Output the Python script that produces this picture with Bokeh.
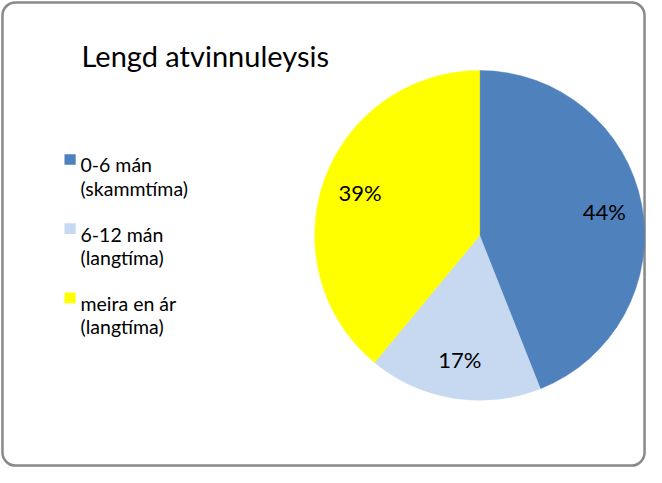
import math
from bokeh.plotting import figure
from bokeh.models import ColumnDataSource, Range1d, BoxAnnotation
from bokeh.core.properties import value
from bokeh.embed import file_html
from bokeh.resources import INLINE

# ---- data ----
title_text = "Lengd atvinnuleysis"
categories = ["0-6 mán\n(skammtíma)", "6-12 mán\n(langtíma)", "meira en ár\n(langtíma)"]
shares = [44, 17, 39]
colors = ["#4F81BD", "#C6D9F1", "#FFFF00"]

FONT = "Lato"

# figure whose data space is the 662x483 reference pixel space (y negated), scaled to fit
p = figure(width=646, height=467, output_backend="svg", toolbar_location=None,
           x_range=Range1d(0, 662), y_range=Range1d(-483, 0),
           min_border=0, background_fill_color="white", border_fill_color="white")
p.axis.visible = False
p.grid.visible = False
p.outline_line_color = None

# chart border (rounded)
p.add_layout(BoxAnnotation(left=2.0, right=660.0, top=-2.0, bottom=-481.0,
                           fill_color="white", fill_alpha=0.0,
                           line_color="#898989", line_alpha=1.0, line_width=2.5,
                           border_radius=13, level="underlay"))

# pie
cx, cy, R = 491, -243, 169
total = sum(shares)
starts, ends, lx, ly, labels = [], [], [], [], []
cum = 0
for s in shares:
    a0 = math.pi / 2 - 2 * math.pi * cum / total
    cum += s
    a1 = math.pi / 2 - 2 * math.pi * cum / total
    starts.append(a0)
    ends.append(a1)
    mid = (a0 + a1) / 2
    lx.append(cx + 0.77 * R * math.cos(mid))
    ly.append(cy + 0.77 * R * math.sin(mid))
    labels.append(f"{s}%")

src = ColumnDataSource(dict(start=starts, end=ends, color=colors, lx=lx, ly=ly, lab=labels))
p.wedge(x=cx, y=cy, radius=R, start_angle="start", end_angle="end", direction="clock",
        fill_color="color", line_color="color", line_width=0.5, source=src)
p.text(x="lx", y="ly", text="lab", source=src, text_font=value(FONT), text_font_size="22px",
       text_align="center", text_baseline="middle", text_color="black")

# title
p.text(x=[83], y=[-57], text=[title_text], text_font=value(FONT), text_font_size="29px",
       text_align="left", text_baseline="alphabetic", text_color="black")

# legend (manual)
first = [c.split("\n")[0] for c in categories]
second = [c.split("\n")[1] for c in categories]
base = [-(170 + 71.5 * i) for i in range(len(categories))]
leg = ColumnDataSource(dict(
    sx=[71.3] * len(categories), sy=[b + 5.5 for b in base], color=colors,
    tx=[82] * len(categories), y1=base, y2=[b - 24 for b in base],
    t1=first, t2=second))
p.rect(x="sx", y="sy", width=11.5, height=11, fill_color="color", line_color=None, source=leg)
p.text(x="tx", y="y1", text="t1", source=leg, text_font=value(FONT), text_font_size="19.5px",
       text_baseline="alphabetic", text_color="black")
p.text(x="tx", y="y2", text="t2", source=leg, text_font=value(FONT), text_font_size="19.5px",
       text_baseline="alphabetic", text_color="black")

open("out.html", "w").write(file_html(p, INLINE))
